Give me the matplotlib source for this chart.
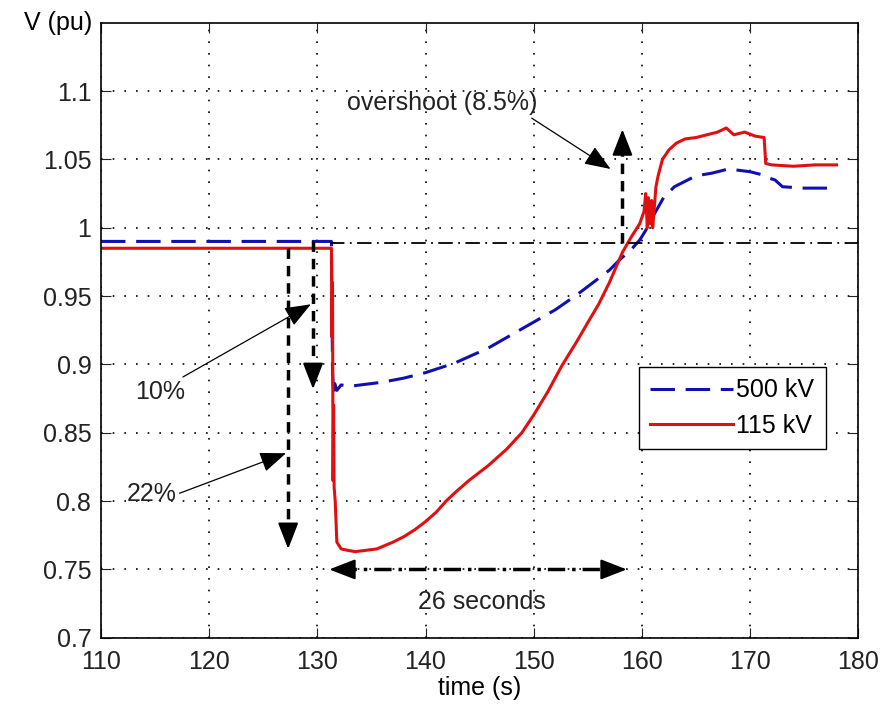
import matplotlib.pyplot as plt

plt.rcParams['font.family'] = ['Liberation Sans', 'DejaVu Sans']
plt.rcParams['font.size'] = 18

# 500 kV bus voltage (pu)
t_500 = [110, 131.3, 131.4, 131.5, 131.6, 131.8, 132.2, 133, 134, 136, 138, 140, 142.7,
         145.8, 148.9, 152, 154, 156, 157, 158, 159, 159.8, 160.5, 161,
         161.5, 162, 163, 164, 165, 166.5, 168, 169, 170, 171, 171.5, 172.3, 173, 175, 178]
v_500 = [0.99, 0.99, 0.895, 0.878, 0.886, 0.881, 0.885, 0.884, 0.885, 0.887, 0.89, 0.894, 0.901,
         0.912, 0.926, 0.94, 0.951, 0.963, 0.969, 0.977, 0.984, 0.991, 1.0, 1.008,
         1.015, 1.022, 1.03, 1.034, 1.038, 1.04, 1.043, 1.042, 1.041, 1.039, 1.037, 1.035, 1.03, 1.029, 1.029]

# 115 kV bus voltage (pu)
t_115 = [110, 131.3, 131.35, 131.4, 131.45, 131.5, 131.55, 131.65, 131.8, 132.2, 132.8,
         133.5, 134.5, 135.5, 137, 138, 139, 140, 141, 141.9, 142.7, 144, 145.8, 147.5,
         148.9, 150, 151.3, 152.6, 154, 155.1, 156, 157, 158.2, 159, 159.8, 160.2, 160.35,
         160.5, 160.6, 160.75, 160.9, 161.0, 161.15, 161.3, 161.5, 161.9, 162.5, 163.2, 164,
         165, 166, 167, 167.8, 168.5, 169.5, 170.5, 171.3, 171.45, 172, 174, 176, 178]
v_115 = [0.985, 0.985, 0.92, 0.96, 0.815, 0.87, 0.81, 0.8, 0.77, 0.765, 0.764,
         0.763, 0.764, 0.765, 0.77, 0.774, 0.779, 0.785, 0.792, 0.8, 0.806, 0.815, 0.826, 0.838,
         0.85, 0.863, 0.88, 0.899, 0.917, 0.932, 0.944, 0.96, 0.982, 0.993, 1.003, 1.012, 1.025,
         1.0, 1.022, 1.003, 1.02, 1.0, 1.015, 1.03, 1.038, 1.05, 1.057, 1.062, 1.065,
         1.066, 1.068, 1.07, 1.073, 1.068, 1.07, 1.067, 1.066, 1.047, 1.046, 1.045, 1.046, 1.046]

# pre-fault reference level
ref_level = 0.989

fig = plt.figure(figsize=(8.94, 7.11), dpi=100)
ax = fig.add_axes([0.113, 0.103, 0.847, 0.865])

ax.plot(t_500, v_500, color='#1010b0', lw=2.2, ls=(0, (8, 3.5)), label='500 kV')
ax.plot(t_115, v_115, color='#e01010', lw=2.2, label='115 kV')
ax.plot([131.2, 180], [ref_level, ref_level], color='k', lw=1.3, ls=(0, (8, 3, 1, 3)))

ax.set_xlim(110, 180)
ax.set_ylim(0.7, 1.15)
ax.set_xticks(range(110, 181, 10))
ax.set_yticks([0.7, 0.75, 0.8, 0.85, 0.9, 0.95, 1.0, 1.05, 1.1])
ax.set_yticklabels(['0.7', '0.75', '0.8', '0.85', '0.9', '0.95', '1', '1.05', '1.1'])
ax.tick_params(direction='in', length=7, top=True, right=True, colors='#222222')
ax.tick_params(axis='x', pad=9)
ax.tick_params(axis='y', pad=7)
ax.grid(True, color='k', ls=(0, (1, 6)), lw=1.2)
for s in ax.spines.values():
    s.set_linewidth(1.2)

ax.set_xlabel('time (s)', labelpad=1)
ax.text(-0.012, 1.0, 'V (pu)', transform=ax.transAxes, ha='right', va='center')

head = dict(arrowstyle='-|>,head_length=0.9,head_width=0.35', color='k', lw=1.5,
            shrinkA=0, shrinkB=0)
dash = dict(color='k', lw=2.5, ls=(0, (3, 2)))

# voltage drop arrows
ax.plot([127.3, 127.3], [0.985, 0.775], **dash)
ax.annotate('', xy=(127.3, 0.765), xytext=(127.3, 0.78), arrowprops=head)
ax.plot([129.6, 129.6], [0.99, 0.892], **dash)
ax.annotate('', xy=(129.6, 0.882), xytext=(129.6, 0.897), arrowprops=head)

# overshoot arrow
ax.plot([158.2, 158.2], [ref_level, 1.062], **dash)
ax.annotate('', xy=(158.2, 1.072), xytext=(158.2, 1.057), arrowprops=head)

# recovery time arrow
ax.plot([132.0, 157.7], [0.75, 0.75], color='k', lw=2.5, ls=(0, (5, 2, 1, 2)))
ax.annotate('', xy=(131.1, 0.75), xytext=(132.6, 0.75), arrowprops=head)
ax.annotate('', xy=(158.6, 0.75), xytext=(157.1, 0.75), arrowprops=head)

thin = dict(arrowstyle='-|>,head_length=0.9,head_width=0.35', color='k', lw=0.9,
            shrinkA=0, shrinkB=0)
ax.annotate('10%', xy=(129.4, 0.944), xytext=(115.5, 0.88), ha='center', va='center',
            color='#222222', arrowprops=dict(thin, relpos=(0.85, 1.0)))
ax.annotate('22%', xy=(127.1, 0.835), xytext=(114.7, 0.805), ha='center', va='center',
            color='#222222', arrowprops=dict(thin, relpos=(1.0, 0.5)))
ax.annotate('overshoot (8.5%)', xy=(157.1, 1.043), xytext=(141.5, 1.091), ha='center',
            va='center', color='#222222', arrowprops=dict(thin, relpos=(0.95, 0.0)))
ax.text(145.2, 0.726, '26 seconds', ha='center', va='center', color='#222222')

leg = ax.legend(loc='upper right', bbox_to_anchor=(0.957, 0.44), fancybox=False,
                framealpha=1, edgecolor='k', handlelength=3.3, borderpad=0.45,
                labelspacing=0.45, handletextpad=0.15, borderaxespad=0)
leg.get_frame().set_linewidth(1.0)

fig.savefig('out.png', dpi=100)
